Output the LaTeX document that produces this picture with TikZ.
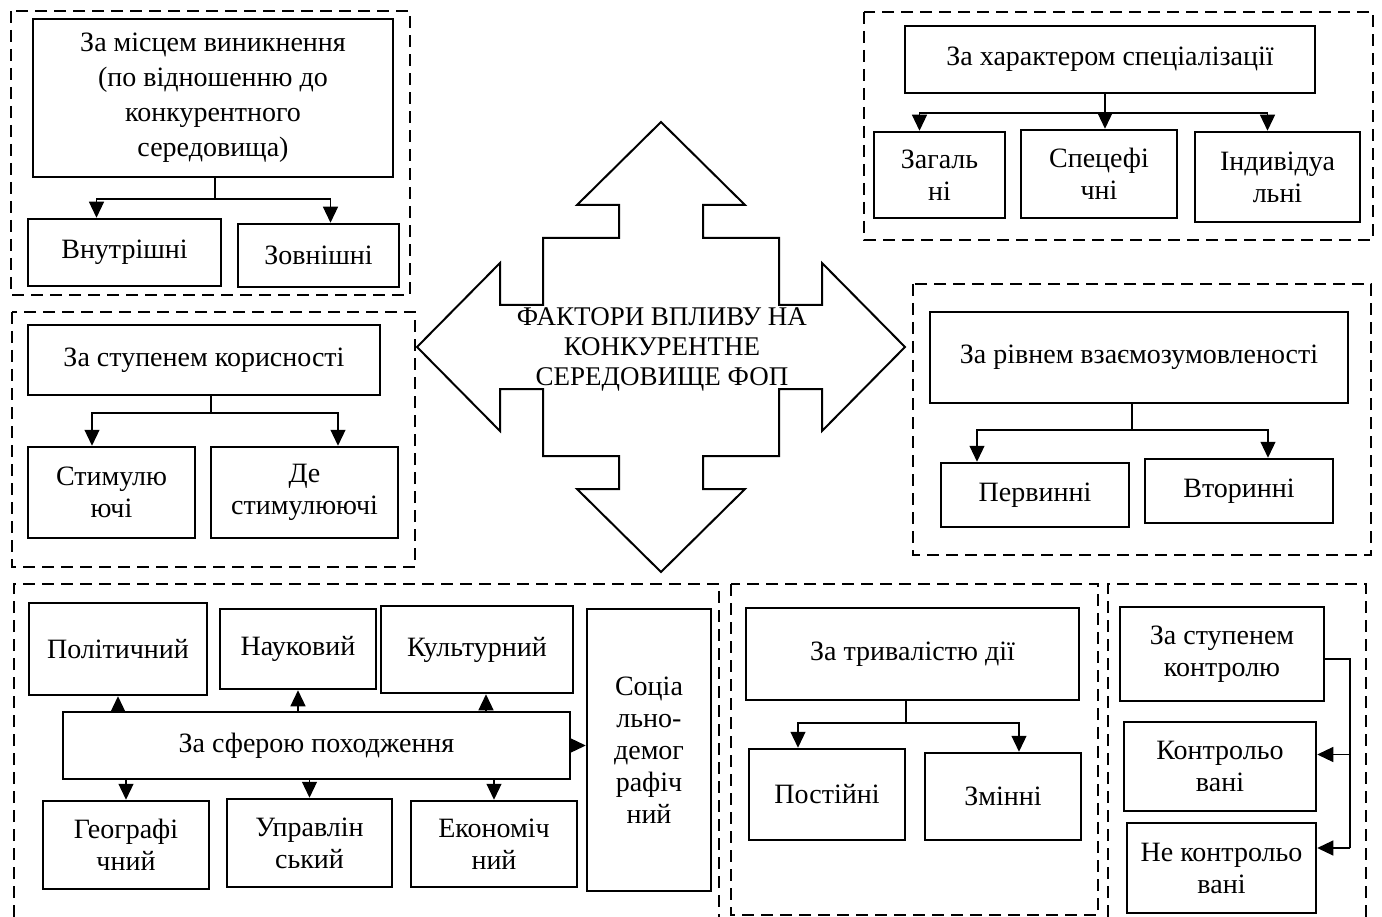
\documentclass[tikz,border=0pt]{standalone}
\usepackage{fontspec}
\setmainfont{Liberation Serif}
\usetikzlibrary{arrows.meta}
\tikzset{block/.style = {draw, fill=white, line width=2.5pt, rectangle, align=center, inner sep=2pt, font=\fontsize{28}{32}\selectfont},
         wh/.style 2 args = {minimum width=#1pt, minimum height=#2pt},
         frame/.style = {draw, line width=2.5pt, dash pattern=on 12pt off 7pt},
         link/.style = {line width=1.2pt},
         arr/.style = {line width=1.2pt, -{Triangle[length=16pt,width=15pt]}}}

\begin{document}
\begin{tikzpicture}[x=1pt,y=-1pt]
        \useasboundingbox (0,0) rectangle (1382,917);

        \draw[frame](11,11)rectangle(410,295);
        \draw[frame](864,12)rectangle(1373,240);
        \draw[frame](12,312)rectangle(415,567);
        \draw[frame](913,284)rectangle(1371,555);
        \draw[frame](14,917)--(14,584)--(719,584)--(719,917);
        \draw[frame](731,584)rectangle(1098,915);
        \draw[frame](1108,917)--(1108,584)--(1366,584)--(1366,917);

        \begin{scope}[shift={(661,347)}]
        \draw[line width=2pt](0,-225)--(84,-142)--(42,-142)--(42,-109)--(118,-109)--(118,-42)--(161,-42)--(161,-84)
            --(244,0)--(161,84)--(161,42)--(118,42)--(118,109)--(42,109)--(42,142)--(84,142)
            --(0,225)--(-84,142)--(-42,142)--(-42,109)--(-118,109)--(-118,42)--(-161,42)--(-161,84)
            --(-244,0)--(-161,-84)--(-161,-42)--(-118,-42)--(-118,-109)--(-42,-109)--(-42,-142)--(-84,-142)--cycle;
        \end{scope}
        \node[align=center,font=\fontsize{27}{30}\selectfont](fop)at(662,349){ФАКТОРИ ВПЛИВУ НА\\КОНКУРЕНТНЕ\\СЕРЕДОВИЩЕ ФОП};

        \node[block,wh={360}{158},font=\fontsize{28}{35}\selectfont](mesce)at(213,98){За місцем виникнення\\(по відношенню до\\конкурентного\\середовища)};
        \node[block,wh={193}{67}](vnutr)at(124.5,252.5){Внутрішні};
        \node[block,wh={161}{63}](zovn)at(318.5,255.5){Зовнішні};
        \coordinate(j1)at(215,199);
        \draw[link]([xshift=2]mesce.south)--(j1);
        \draw[arr](j1)-|([xshift=-28]vnutr.north);
        \draw[arr](j1)-|([xshift=12]zovn.north);

        \node[block,wh={410}{67}](spec)at(1110,59.5){За характером спеціалізації};
        \node[block,wh={131}{86}](zag)at(939.5,175){Загаль\\ні};
        \node[block,wh={156}{88}](specif)at(1099,174){Спецефі\\чні};
        \node[block,wh={165}{90}](indiv)at(1277.5,177){Індивідуа\\льні};
        \coordinate(j2)at(1105,113);
        \draw[arr]([xshift=-5]spec.south)--([xshift=6]specif.north);
        \draw[arr](j2)-|([xshift=-20]zag.north);
        \draw[arr](j2)-|([xshift=-10]indiv.north);

        \node[block,wh={352}{70}](koris)at(204,360){За ступенем корисності};
        \node[block,wh={167}{91}](stym)at(111.5,492.5){Стимулю\\ючі};
        \node[block,wh={187}{91}](destym)at(304.5,492.5){Де\\стимулюючі};
        \coordinate(j3)at(211,413);
        \draw[link]([xshift=7]koris.south)--(j3);
        \draw[arr](j3)-|([xshift=-19.5]stym.north);
        \draw[arr](j3)-|([xshift=33.5]destym.north);

        \node[block,wh={418}{91}](vzaem)at(1139,357.5){За рівнем взаємозумовленості};
        \node[block,wh={188}{64}](perv)at(1035,495){Первинні};
        \node[block,wh={188}{64}](vtor)at(1239,491){Вторинні};
        \coordinate(j4)at(1132,430);
        \draw[link]([xshift=-7]vzaem.south)--(j4);
        \draw[arr](j4)-|([xshift=-58]perv.north);
        \draw[arr](j4)-|([xshift=29]vtor.north);

        \node[block,wh={507}{67}](sfera)at(316.5,745.5){За сферою походження};
        \node[block,wh={178}{92}](polit)at(118,649){Політичний};
        \node[block,wh={156}{80}](nauk)at(298,649){Науковий};
        \node[block,wh={192}{87}](kult)at(477,649.5){Культурний};
        \node[block,wh={124}{282}](soc)at(649,750){Соціа\\льно-\\демог\\рафіч\\ний};
        \node[block,wh={166}{88}](geo)at(126,845){Географі\\чний};
        \node[block,wh={165}{88}](upr)at(309.5,843){Управлін\\ський};
        \node[block,wh={166}{86}](ekon)at(494,844){Економіч\\ний};
        \coordinate(ku)at([xshift=9]kult.south);
        \draw[arr](sfera.north-|polit.south)--(polit.south);
        \draw[arr](sfera.north-|nauk.south)--(nauk.south);
        \draw[arr](sfera.north-|ku)--(ku);
        \draw[arr](sfera.south-|geo.north)--(geo.north);
        \draw[arr](sfera.south-|upr.north)--(upr.north);
        \draw[arr](sfera.south-|ekon.north)--(ekon.north);
        \draw[arr](sfera.east)--(sfera.east-|soc.west);

        \node[block,wh={333}{92}](tryv)at(912.5,654){За тривалістю дії};
        \node[block,wh={156}{91}](post)at(827,794.5){Постійні};
        \node[block,wh={156}{87}](zmin)at(1003,796.5){Змінні};
        \coordinate(j6)at(906,723);
        \draw[link]([xshift=-6.5]tryv.south)--(j6);
        \draw[arr](j6)-|([xshift=-29]post.north);
        \draw[arr](j6)-|([xshift=16]zmin.north);

        \node[block,wh={204}{94}](kontr)at(1222,654){За ступенем\\контролю};
        \node[block,wh={192}{89}](kvani)at(1220,766.5){Контрольо\\вані};
        \node[block,wh={189}{90}](nekvani)at(1221.5,868){Не контрольо\\вані};
        \coordinate(j7)at(1350,659);
        \coordinate(j8)at(1350,848);
        \coordinate(kv)at([yshift=12]kvani.east);
        \draw[link]([yshift=-5]kontr.east)--(j7)--(j8);
        \draw[arr](j7|-kv)--(kv);
        \draw[arr](j8)--(j8-|nekvani.east);
\end{tikzpicture}
\end{document}
